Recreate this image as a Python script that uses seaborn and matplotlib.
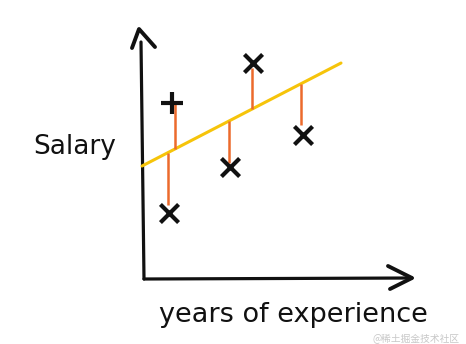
import numpy as np
import pandas as pd
import matplotlib
matplotlib.use("Agg")
import matplotlib.pyplot as plt
import seaborn as sns

# ---- data (years of experience vs salary, arbitrary units) ----
experience = [1.4, 1.25, 4.3, 5.45, 7.95]
salary = [8.8, 3.3, 5.6, 10.8, 7.2]
marker_kind = ["plus", "cross", "cross", "cross", "cross"]
# residual segments (drawn slightly off the points, hand-drawn style)
residual_x = [1.55, 1.2, 4.25, 5.4, 7.85]
residual_end = [8.8, 3.7, 5.8, 10.55, 7.7]
# fitted regression line
slope = 0.5176
intercept = 5.70
line_x_range = [-0.1, 9.85]

x_label = "years of experience"
y_label = "Salary"

BLACK = "#111111"
YELLOW = "#f6c40a"
ORANGE = "#ec6a2c"

sns.set_style("white")
plt.rcParams["font.family"] = ["DejaVu Sans"]

fig = plt.figure(figsize=(4.66, 3.44), dpi=100)
ax = fig.add_axes([0, 0, 1, 1])
ax.set_xlim(-7.2, 16.1)
ax.set_ylim(-3.25, 13.95)
ax.axis("off")

# hand-drawn axes with arrow heads
ax.plot([-0.15, 0.0], [11.85, 0.0], color=BLACK, lw=2.3, solid_capstyle="round")
ax.plot([-0.6, -0.25, 0.55], [11.55, 12.5, 11.6], color=BLACK, lw=2.8,
        solid_capstyle="round", solid_joinstyle="round")
ax.plot([0.0, 13.4], [0.0, 0.05], color=BLACK, lw=2.3, solid_capstyle="round")
ax.plot([12.2, 13.4, 12.3], [0.65, 0.05, -0.5], color=BLACK, lw=2.8,
        solid_capstyle="round", solid_joinstyle="round")

# regression line
lx = np.array(line_x_range)
line_df = pd.DataFrame({"x": lx, "y": intercept + slope * lx})
sns.lineplot(data=line_df, x="x", y="y", color=YELLOW, lw=2.2, ax=ax)

# residuals
rx = np.array(residual_x)
ax.vlines(rx, intercept + slope * rx, residual_end, color=ORANGE, lw=1.8)

# points
df = pd.DataFrame({"experience": experience, "salary": salary, "kind": marker_kind})
for kind, m, size in [("plus", "+", 230), ("cross", "x", 170)]:
    sub = df[df["kind"] == kind]
    sns.scatterplot(data=sub, x="experience", y="salary", marker=m, s=size,
                    color=BLACK, linewidth=3.0, ax=ax, zorder=5)

ax.text(-3.45, 6.6, y_label, fontsize=19, ha="center", va="center", color=BLACK)
ax.text(7.45, -1.8, x_label, fontsize=19.5, ha="center", va="center", color=BLACK)
ax.text(15.8, -3.0, "@稀土掘金技术社区", fontsize=7, ha="right", va="center",
        color="#c8c8c8", family=["Noto Sans CJK SC", "DejaVu Sans"])

fig.savefig("out.png", dpi=100)
